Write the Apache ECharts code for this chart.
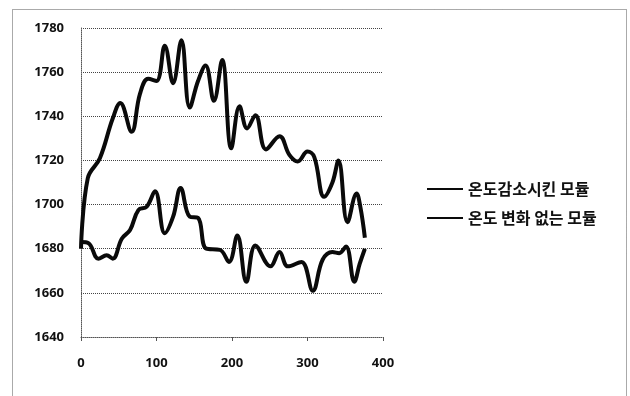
<!DOCTYPE html>
<html>
<head>
<meta charset="utf-8">
<script src="https://cdn.jsdelivr.net/npm/echarts@6/dist/echarts.min.js"></script>
<style>
  html, body { margin: 0; padding: 0; background: #fff; }
  #chart { width: 630px; height: 396px; }
</style>
</head>
<body>
<div id="chart"></div>
<script>
const seriesNames = ["온도감소시킨 모듈", "온도 변화 없는 모듈"];

// 온도감소시킨 모듈
const xCooled = [0, 9, 25, 42, 52, 67, 78, 89, 100, 111, 122, 133, 144, 155, 165, 176, 187, 199, 210, 220, 231, 245, 263, 276, 287, 300, 309, 322, 333, 341, 353, 365, 370, 376];
const yCooled = [1680, 1712, 1721, 1739, 1746, 1733, 1750, 1757, 1756, 1772, 1755, 1774.5, 1744, 1756, 1763, 1747, 1765.5, 1725.5, 1744.5, 1734.5, 1740.5, 1725, 1731, 1722.5, 1719.5, 1724, 1721.5, 1703.5, 1710, 1720, 1692, 1705, 1699, 1685];

// 온도 변화 없는 모듈
const xPlain = [0, 10, 23, 34, 42, 54, 65, 76, 87, 98, 111, 122, 132, 144, 155, 166, 184, 196, 207, 219, 231, 251, 263, 274, 292, 307, 320, 333, 342, 351, 362, 369, 376];
const yPlain = [1683, 1682.5, 1675.5, 1677, 1675.5, 1684.5, 1688.5, 1697.5, 1699, 1706, 1687, 1694.5, 1707.5, 1694.5, 1694, 1680, 1679.5, 1674, 1686, 1665, 1681.5, 1672, 1678.5, 1672, 1674, 1661, 1675, 1678.5, 1678, 1681, 1665, 1673, 1680];

const xTicks = [0, 100, 200, 300, 400];
const yTicks = [1640, 1660, 1680, 1700, 1720, 1740, 1760, 1780];

const zip = (xs, ys) => xs.map((x, i) => [x, ys[i]]);

const chart = echarts.init(document.getElementById("chart"), null, { renderer: "canvas" });

const axisFont = {
  color: "#111",
  fontSize: 13,
  fontWeight: "bold",
  fontFamily: "Noto Sans, sans-serif",
  formatter: (v) => String(v),
};

chart.setOption({
  backgroundColor: "#fff",
  animation: false,
  graphic: [
    {
      type: "rect",
      shape: { x: 12.5, y: 9.5, width: 614, height: 400 },
      style: { fill: "none", stroke: "#555", lineWidth: 1, lineDash: [1, 1] },
      z: 0,
    },
  ],
  grid: { left: 81, right: 247, top: 28, bottom: 59 },
  legend: {
    orient: "vertical",
    left: 422,
    top: 176,
    itemGap: 13,
    itemWidth: 36,
    itemHeight: 2,
    icon: "rect",
    data: seriesNames,
    textStyle: {
      color: "#111",
      fontSize: 16,
      fontWeight: "bold",
      fontFamily: "Noto Sans CJK KR",
    },
  },
  xAxis: {
    type: "value",
    min: xTicks[0],
    max: xTicks[xTicks.length - 1],
    interval: 100,
    axisLine: { lineStyle: { color: "#555", type: "dotted" } },
    axisTick: { show: true, length: 4, inside: false, lineStyle: { color: "#555" } },
    axisLabel: { ...axisFont, margin: 20 },
    splitLine: { show: false },
  },
  yAxis: {
    type: "value",
    min: yTicks[0],
    max: yTicks[yTicks.length - 1],
    interval: 20,
    axisLine: { show: true, lineStyle: { color: "#555", type: "dotted" } },
    axisTick: { show: false },
    axisLabel: { ...axisFont, margin: 17 },
    splitLine: { lineStyle: { color: "#444", type: "dotted", width: 1 } },
  },
  series: [
    {
      name: seriesNames[0],
      type: "line",
      data: zip(xCooled, yCooled),
      smooth: 0.4,
      symbol: "none",
      lineStyle: { color: "#0a0a0a", width: 4 },
      itemStyle: { color: "#0a0a0a" },
    },
    {
      name: seriesNames[1],
      type: "line",
      data: zip(xPlain, yPlain),
      smooth: 0.4,
      symbol: "none",
      lineStyle: { color: "#0a0a0a", width: 4 },
      itemStyle: { color: "#0a0a0a" },
    },
  ],
});
</script>
</body>
</html>
